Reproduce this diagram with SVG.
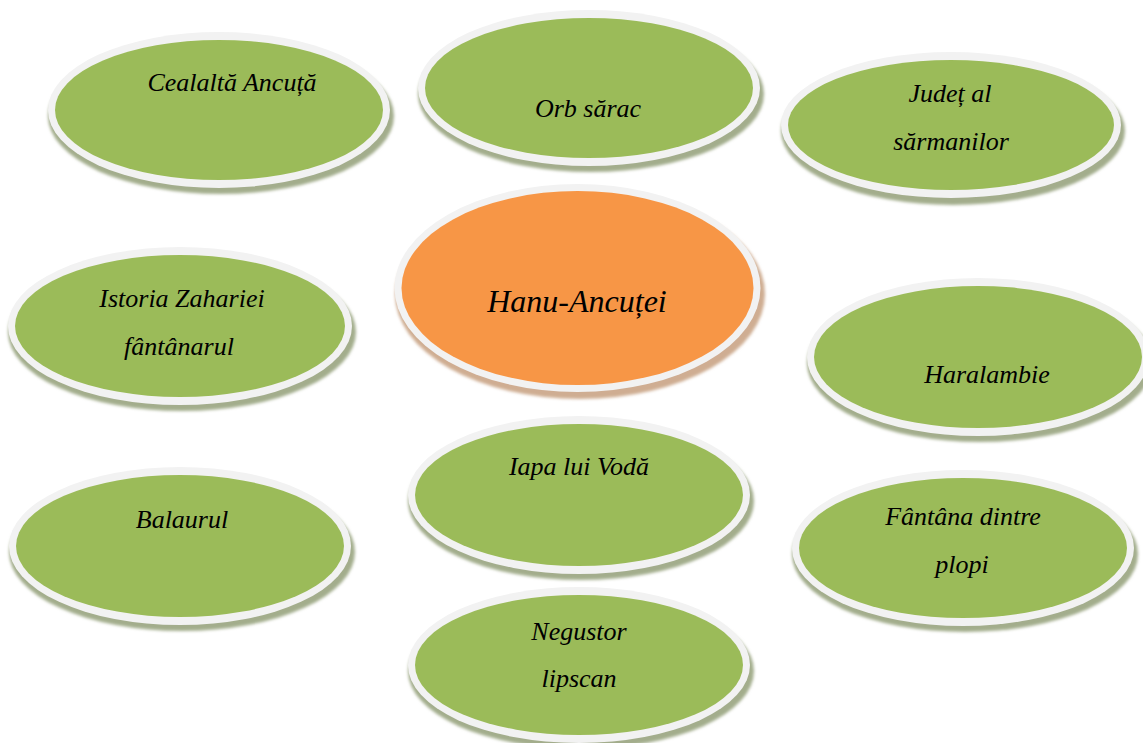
<svg xmlns="http://www.w3.org/2000/svg" width="1143" height="743" viewBox="0 0 1143 743" font-family="Liberation Serif, Times New Roman, serif">
<defs>
  <filter id="blur" x="-10%" y="-10%" width="120%" height="130%">
    <feGaussianBlur stdDeviation="1.5"/>
  </filter>
</defs>
<style>
  .shadow-g { fill: #a3ad8c; filter: url(#blur); }
  .shadow-o { fill: #cfad92; filter: url(#blur); }
  .ring { fill: #f2f2f2; }
  .green { fill: #9bbb59; }
  .orange { fill: #f79646; }
  .lbl { font-family: 'Liberation Serif', 'Times New Roman', serif; font-style: italic; font-size: 26px; fill: #000000; text-anchor: middle; }
  .big { font-size: 32px; }
</style>
<rect width="1143" height="743" fill="#ffffff"/>
<g id="connectors"></g>

<g id="node-cealalta">
  <ellipse class="shadow-g" cx="221" cy="116" rx="173" ry="78"/>
  <ellipse class="ring" cx="219" cy="110" rx="171" ry="78"/>
  <ellipse class="green" cx="219" cy="110" rx="164" ry="70"/>
  <text class="lbl" font-family="Liberation Serif" font-style="italic" x="232" y="91">Cealaltă Ancuță</text>
</g>

<g id="node-orb">
  <ellipse class="shadow-g" cx="591" cy="94" rx="173" ry="78"/>
  <ellipse class="ring" cx="589" cy="88" rx="171" ry="78"/>
  <ellipse class="green" cx="589" cy="88" rx="164" ry="70"/>
  <text class="lbl" font-family="Liberation Serif" font-style="italic" x="588" y="117">Orb sărac</text>
</g>

<g id="node-judet">
  <ellipse class="shadow-g" cx="953" cy="131" rx="172" ry="74"/>
  <ellipse class="ring" cx="951" cy="125" rx="170" ry="73"/>
  <ellipse class="green" cx="951" cy="125" rx="163" ry="65"/>
  <text class="lbl" font-family="Liberation Serif" font-style="italic" x="950" y="102">Județ al</text>
  <text class="lbl" font-family="Liberation Serif" font-style="italic" x="951" y="150">sărmanilor</text>
</g>

<g id="node-hanu">
  <ellipse class="shadow-o" cx="580" cy="294" rx="185" ry="105"/>
  <ellipse class="ring" cx="577.5" cy="288" rx="183" ry="104"/>
  <ellipse class="orange" cx="577.5" cy="288" rx="176" ry="97"/>
  <text class="lbl big" font-family="Liberation Serif" font-style="italic" x="577" y="312">Hanu-Ancuței</text>
</g>

<g id="node-istoria">
  <ellipse class="shadow-g" cx="182" cy="332" rx="174" ry="79"/>
  <ellipse class="ring" cx="180" cy="326" rx="172" ry="79"/>
  <ellipse class="green" cx="180" cy="326" rx="165" ry="71"/>
  <text class="lbl" font-family="Liberation Serif" font-style="italic" x="182" y="307">Istoria Zahariei</text>
  <text class="lbl" font-family="Liberation Serif" font-style="italic" x="179" y="355">fântânarul</text>
</g>

<g id="node-haralambie">
  <ellipse class="shadow-g" cx="980" cy="363" rx="173" ry="79"/>
  <ellipse class="ring" cx="978" cy="357" rx="171" ry="79"/>
  <ellipse class="green" cx="978" cy="357" rx="164" ry="71"/>
  <text class="lbl" font-family="Liberation Serif" font-style="italic" x="987" y="383">Haralambie</text>
</g>

<g id="node-iapa">
  <ellipse class="shadow-g" cx="581" cy="501" rx="173" ry="79"/>
  <ellipse class="ring" cx="579" cy="495" rx="171" ry="79"/>
  <ellipse class="green" cx="579" cy="495" rx="164" ry="71"/>
  <text class="lbl" font-family="Liberation Serif" font-style="italic" x="579" y="475">Iapa lui Vodă</text>
</g>

<g id="node-balaurul">
  <ellipse class="shadow-g" cx="182" cy="552" rx="173" ry="79"/>
  <ellipse class="ring" cx="180" cy="546" rx="171" ry="79"/>
  <ellipse class="green" cx="180" cy="546" rx="164" ry="71"/>
  <text class="lbl" font-family="Liberation Serif" font-style="italic" x="182" y="528">Balaurul</text>
</g>

<g id="node-fantana">
  <ellipse class="shadow-g" cx="965" cy="554" rx="173" ry="78"/>
  <ellipse class="ring" cx="963" cy="548" rx="171" ry="78"/>
  <ellipse class="green" cx="963" cy="548" rx="164" ry="70"/>
  <text class="lbl" font-family="Liberation Serif" font-style="italic" x="963" y="525">Fântâna dintre</text>
  <text class="lbl" font-family="Liberation Serif" font-style="italic" x="962" y="573">plopi</text>
</g>

<g id="node-negustor">
  <ellipse class="shadow-g" cx="581" cy="671" rx="173" ry="78"/>
  <ellipse class="ring" cx="579" cy="665" rx="171" ry="78"/>
  <ellipse class="green" cx="579" cy="665" rx="164" ry="70"/>
  <text class="lbl" font-family="Liberation Serif" font-style="italic" x="579" y="640">Negustor</text>
  <text class="lbl" font-family="Liberation Serif" font-style="italic" x="579" y="687">lipscan</text>
</g>
</svg>
